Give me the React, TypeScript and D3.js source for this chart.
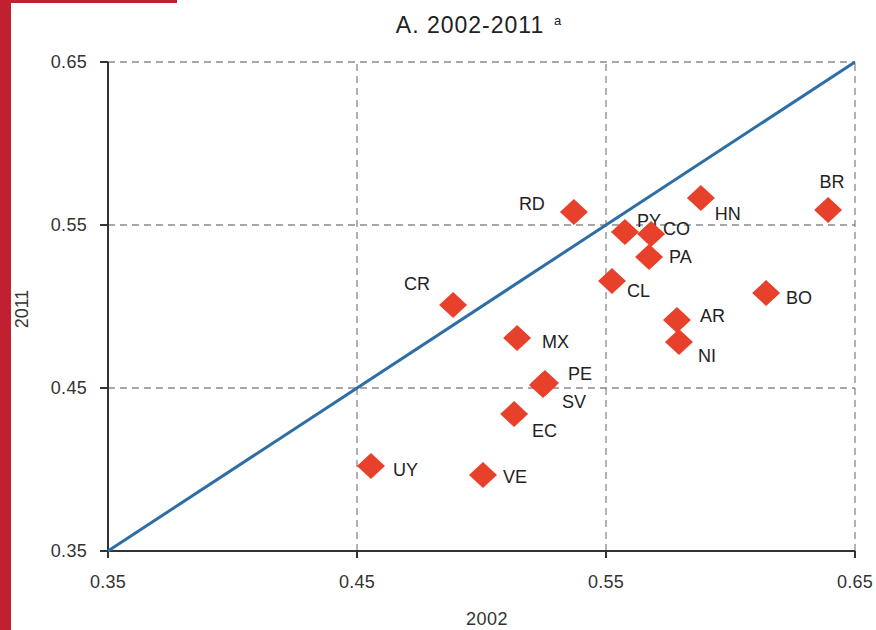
import React from "react";
import * as d3 from "d3";

const countries = ["RD","PY","CO","PA","HN","BR","BO","CL","AR","NI","CR","MX","PE","SV","EC","UY","VE"];
const values2002 = [0.5371,0.5576,0.5681,0.5673,0.5881,0.6392,0.6143,0.5524,0.5785,0.5793,0.4886,0.5143,0.5255,0.5247,0.5131,0.4556,0.5006];
const values2011 = [0.5580,0.5457,0.5445,0.5304,0.5666,0.5592,0.5083,0.5157,0.4917,0.4782,0.5009,0.4807,0.4531,0.4518,0.4340,0.4021,0.3966];
const ticks = [0.35, 0.45, 0.55, 0.65];
const tickLabels = ["0.35", "0.45", "0.55", "0.65"];

// label placement relative to marker: [dx, dy, anchor]
const labelPlacement: [number, number, string][] = [
  [-29, -2, "end"], [12, -5, "start"], [12, 1, "start"], [20, 6, "start"],
  [14, 22, "start"], [4, -22, "middle"], [20, 11, "start"], [15, 16, "start"],
  [23, 2, "start"], [19, 20, "start"], [-23, -15, "end"], [25, 10, "start"],
  [23, -3, "start"], [19, 23, "start"], [18, 23, "start"], [22, 10, "start"],
  [20, 8, "start"],
];

const W = 876, H = 630;
const left = 108, right = 855, top = 62, bottom = 551;
const FONT = "'Liberation Sans', Arial, sans-serif";

export default function App() {
  const x = d3.scaleLinear().domain([0.35, 0.65]).range([left, right]);
  const y = d3.scaleLinear().domain([0.35, 0.65]).range([bottom, top]);
  const diamond = (cx: number, cy: number) =>
    `M${cx},${cy - 13}L${cx + 14},${cy}L${cx},${cy + 13}L${cx - 14},${cy}Z`;
  const line = d3.line<number>().x((d) => x(d)).y((d) => y(d));

  return (
    <svg width={W} height={H} style={{ position: "absolute", left: 0, top: 0, background: "#fff" }} fontFamily={FONT}>
      <rect x={0} y={0} width={W} height={H} fill="#fff" />
      <rect x={0} y={0} width={11} height={H} fill="#c0202f" />
      <rect x={0} y={0} width={177} height={3} fill="#c0202f" />

      <text x={470} y={33} textAnchor="middle" fontSize={23} letterSpacing={1} fill="#222">
        A. 2002-2011
      </text>
      <text x={554} y={25} fontSize={13} fill="#222">a</text>

      {/* grid */}
      {ticks.slice(1).map((t) => (
        <g key={"g" + t}>
          <line x1={left} x2={right} y1={y(t)} y2={y(t)} stroke="#8a8a8a" strokeWidth={1.3} strokeDasharray="7,5" />
          <line x1={x(t)} x2={x(t)} y1={bottom} y2={top} stroke="#8a8a8a" strokeWidth={1.3} strokeDasharray="7,5" />
        </g>
      ))}

      {/* axes */}
      <line x1={left} x2={left} y1={top} y2={bottom} stroke="#333" strokeWidth={2} />
      <line x1={left} x2={right} y1={bottom} y2={bottom} stroke="#333" strokeWidth={2} />
      {ticks.map((t, i) => (
        <g key={"t" + t}>
          <line x1={left - 8} x2={left} y1={y(t)} y2={y(t)} stroke="#333" strokeWidth={2} />
          <line x1={x(t)} x2={x(t)} y1={bottom} y2={bottom + 7} stroke="#333" strokeWidth={2} />
          <text x={87} y={y(t) + 6} textAnchor="end" fontSize={18} letterSpacing={0.3} fill="#333">{tickLabels[i]}</text>
          <text x={x(t)} y={588} textAnchor="middle" fontSize={18} letterSpacing={0.3} fill="#333">{tickLabels[i]}</text>
        </g>
      ))}

      <text x={487} y={625} textAnchor="middle" fontSize={18} letterSpacing={0.5} fill="#333">2002</text>
      <text transform="translate(28,309) rotate(-90)" textAnchor="middle" fontSize={18} fill="#333">2011</text>

      {/* diagonal */}
      <path d={line([0.35, 0.65]) || ""} stroke="#2e6ea6" strokeWidth={3} fill="none" />

      {/* points */}
      {countries.map((c, i) => {
        const cx = x(values2002[i]);
        const cy = y(values2011[i]);
        const [dx, dy, anchor] = labelPlacement[i];
        return (
          <g key={c}>
            <path d={diamond(cx, cy)} fill="#e8412b" />
            <text x={cx + dx} y={cy + dy} textAnchor={anchor as any} fontSize={18} fill="#222">{c}</text>
          </g>
        );
      })}
    </svg>
  );
}
